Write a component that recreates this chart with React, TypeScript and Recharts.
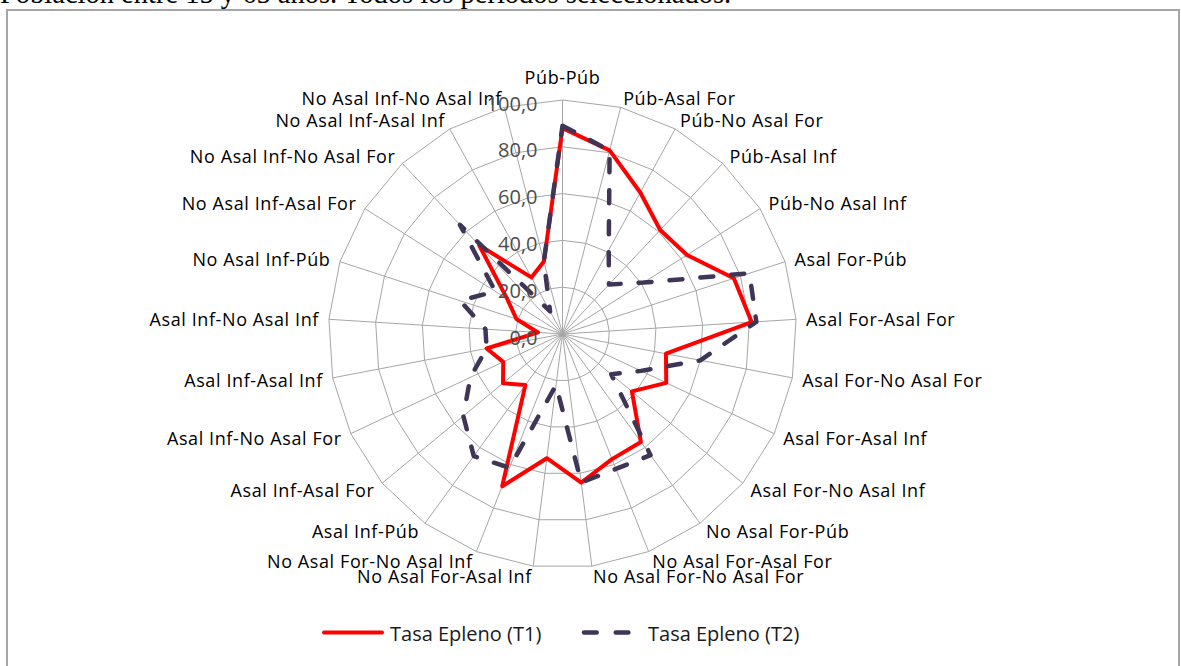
import React from "react";
import { RadarChart, Radar, PolarGrid, PolarAngleAxis, PolarRadiusAxis, Legend } from "recharts";

// Categorías (transiciones entre situaciones), sentido horario desde arriba
const categories = [
  "Púb-Púb",
  "Púb-Asal For",
  "Púb-No Asal For",
  "Púb-Asal Inf",
  "Púb-No Asal Inf",
  "Asal For-Púb",
  "Asal For-Asal For",
  "Asal For-No Asal For",
  "Asal For-Asal Inf",
  "Asal For-No Asal Inf",
  "No Asal For-Púb",
  "No Asal For-Asal For",
  "No Asal For-No Asal For",
  "No Asal For-Asal Inf",
  "No Asal For-No Asal Inf",
  "Asal Inf-Púb",
  "Asal Inf-Asal For",
  "Asal Inf-No Asal For",
  "Asal Inf-Asal Inf",
  "Asal Inf-No Asal Inf",
  "No Asal Inf-Púb",
  "No Asal Inf-Asal For",
  "No Asal Inf-No Asal For",
  "No Asal Inf-Asal Inf",
  "No Asal Inf-No Asal Inf",
];

const tasaT1 = [88, 81, 69, 61, 63, 77, 81, 45, 49, 38.5, 57, 57.5, 64, 53.5, 70, 27, 33, 28, 33, 10.5, 20.7, 28, 52, 27.6, 32];
const tasaT2 = [89, 81, 41, 29, 41, 84, 83, 60, 37, 27, 64, 62, 64, 22, 61.5, 64.5, 55, 43.5, 33, 33, 46, 34, 64, 11, 32];

const radiusTicks = [0, 20, 40, 60, 80, 100];
const seriesNames = ["Tasa Epleno (T1)", "Tasa Epleno (T2)"];

const data = categories.map((c, i) => ({ categoria: c, t1: tasaT1[i], t2: tasaT2[i] }));

const FONT = "'Open Sans', sans-serif";
const RED = "#ff0000";
const PURPLE = "#3f3557";

function AngleTick(props: any) {
  const { x, y, payload, textAnchor } = props;
  const dy = textAnchor === "middle" ? -13 : 0;
  return (
    <text
      x={x}
      y={y + dy}
      textAnchor={textAnchor}
      dominantBaseline="central"
      fontFamily={FONT}
      fontSize={18}
      letterSpacing={0.6}
      fill="#000"
    >
      {payload.value}
    </text>
  );
}

function RadiusTick(props: any) {
  const { x, y, payload } = props;
  return (
    <text
      x={x - 25}
      y={y + 3}
      textAnchor="end"
      dominantBaseline="central"
      fontFamily={FONT}
      fontSize={20}
      fill="#4d4d4d"
    >
      {Number(payload.value).toFixed(1).replace(".", ",")}
    </text>
  );
}

function LegendContent() {
  return (
    <svg width={1181} height={40} style={{ display: "block" }}>
      <line x1={324} x2={382} y1={18.5} y2={18.5} stroke={RED} strokeWidth={4} strokeLinecap="round" />
      <text x={390} y={19} dominantBaseline="central" fontFamily={FONT} fontSize={20} fill="#1a1a1a">
        {seriesNames[0]}
      </text>
      <line
        x1={584}
        x2={630}
        y1={18.5}
        y2={18.5}
        stroke={PURPLE}
        strokeWidth={4.5}
        strokeDasharray="12.7 19"
        strokeLinecap="round"
      />
      <text x={648} y={19} dominantBaseline="central" fontFamily={FONT} fontSize={20} fill="#1a1a1a">
        {seriesNames[1]}
      </text>
    </svg>
  );
}

export default function App() {
  return (
    <div style={{ position: "absolute", left: 0, top: 0, width: 1181, height: 666, overflow: "hidden", background: "#fff" }}>
      <div
        style={{
          position: "absolute",
          left: 0,
          top: -20,
          fontFamily: "'Liberation Serif', serif",
          fontSize: 28.5,
          lineHeight: "28px",
          whiteSpace: "nowrap",
          color: "#000",
        }}
      >
        Población entre 15 y 65 años. Todos los períodos seleccionados.
      </div>
      <div
        style={{
          position: "absolute",
          left: 6,
          top: 9,
          width: 1170,
          height: 700,
          border: "2px solid #a6a6a6",
        }}
      />
      <div style={{ position: "absolute", left: 0, top: 0 }}>
        <RadarChart
          width={1181}
          height={666}
          data={data}
          cx={562.5}
          cy={334}
          outerRadius={234}
          startAngle={90}
          endAngle={-270}
          margin={{ top: 0, right: 0, bottom: 0, left: 0 }}
        >
          <PolarGrid gridType="polygon" stroke="#a6a6a6" strokeWidth={1} />
          <PolarAngleAxis dataKey="categoria" tick={AngleTick} tickLine={false} axisLine={false} tickSize={10} />
          <PolarRadiusAxis
            angle={90}
            domain={[radiusTicks[0], radiusTicks[radiusTicks.length - 1]]}
            tickCount={radiusTicks.length}
            tick={RadiusTick}
            axisLine={false}
            tickLine={false}
          />
          <Radar
            name={seriesNames[0]}
            dataKey="t1"
            stroke={RED}
            strokeWidth={4}
            strokeLinejoin="round"
            fill="none"
            fillOpacity={0}
            dot={false}
            isAnimationActive={false}
          />
          <Radar
            name={seriesNames[1]}
            dataKey="t2"
            stroke={PURPLE}
            strokeWidth={4.5}
            strokeDasharray="13 18"
            strokeLinecap="round"
            strokeLinejoin="round"
            fill="none"
            fillOpacity={0}
            dot={false}
            isAnimationActive={false}
          />
          <Legend
            content={LegendContent}
            wrapperStyle={{ position: "absolute", left: 0, top: 614, width: 1181, height: 40 }}
          />
        </RadarChart>
      </div>
    </div>
  );
}
